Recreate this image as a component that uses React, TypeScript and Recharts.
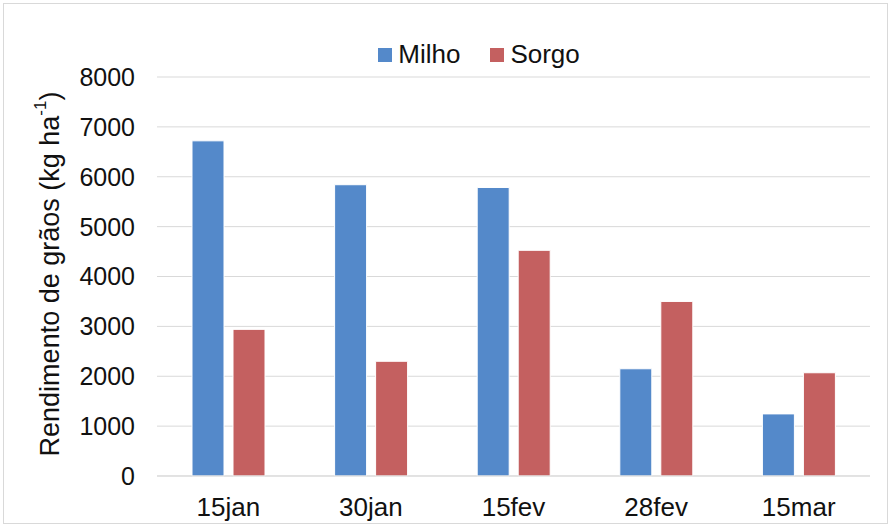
import React from "react";
import { BarChart, Bar, XAxis, YAxis, CartesianGrid, Legend } from "recharts";

const categories = ["15jan", "30jan", "15fev", "28fev", "15mar"];
const milho = [6720, 5840, 5785, 2150, 1245];
const sorgo = [2940, 2300, 4525, 3500, 2070];
const yTicks = [0, 1000, 2000, 3000, 4000, 5000, 6000, 7000, 8000];

const data = categories.map((c, i) => ({ name: c, Milho: milho[i], Sorgo: sorgo[i] }));

const FONT = "'Liberation Sans', Arial, sans-serif";
const BLUE = "#5489CA";
const RED = "#C46060";

const YLabel = () => (
  <text
    x={50}
    y={274}
    transform="rotate(-90, 50, 274)"
    textAnchor="middle"
    dominantBaseline="central"
    fontFamily={FONT}
    fontSize={27}
    fill="#111"
  >
    Rendimento de grãos (kg ha
    <tspan fontSize={17} dy={-10}>-1</tspan>
    <tspan dy={10}>)</tspan>
  </text>
);

const LegendContent = () => (
  <div
    style={{
      display: "flex",
      justifyContent: "center",
      alignItems: "center",
      fontFamily: FONT,
      fontSize: 26,
      color: "#111",
      paddingLeft: 66,
    }}
  >
    {[
      ["Milho", BLUE],
      ["Sorgo", RED],
    ].map(([n, c], i) => (
      <div key={n} style={{ display: "flex", alignItems: "center", marginLeft: i ? 30 : 0 }}>
        <span style={{ width: 14, height: 14, background: c, display: "inline-block", marginRight: 6 }} />
        <span>{n}</span>
      </div>
    ))}
  </div>
);

export default function App() {
  return (
    <div style={{ position: "absolute", left: 0, top: 0, width: 892, height: 529, background: "#fff" }}>
      <div
        style={{
          position: "absolute",
          left: 3,
          top: 3,
          width: 885,
          height: 521,
          border: "1px solid #d9d9d9",
          boxSizing: "border-box",
        }}
      />
      <BarChart
        width={892}
        height={529}
        data={data}
        margin={{ top: 77, right: 22, bottom: 0, left: 0 }}
        barSize={32}
        barGap={9}
      >
        <CartesianGrid vertical={false} stroke="#d9d9d9" />
        <XAxis
          dataKey="name"
          height={53}
          tickLine={false}
          tickMargin={16}
          axisLine={{ stroke: "#d9d9d9" }}
          tick={{ fontFamily: FONT, fontSize: 26, fill: "#111" }}
        />
        <YAxis
          width={157}
          domain={[0, 8000]}
          ticks={yTicks}
          tickLine={false}
          axisLine={false}
          tickMargin={16}
          tick={{ fontFamily: FONT, fontSize: 25, fill: "#111" }}
          label={<YLabel />}
        />
        <Legend
          verticalAlign="middle"
          layout="horizontal"
          wrapperStyle={{ top: 39, left: 0, width: 892 }}
          content={<LegendContent />}
        />
        <Bar dataKey="Milho" fill={BLUE} stroke="#fff" strokeWidth={1} isAnimationActive={false} />
        <Bar dataKey="Sorgo" fill={RED} stroke="#fff" strokeWidth={1} isAnimationActive={false} />
      </BarChart>
    </div>
  );
}
